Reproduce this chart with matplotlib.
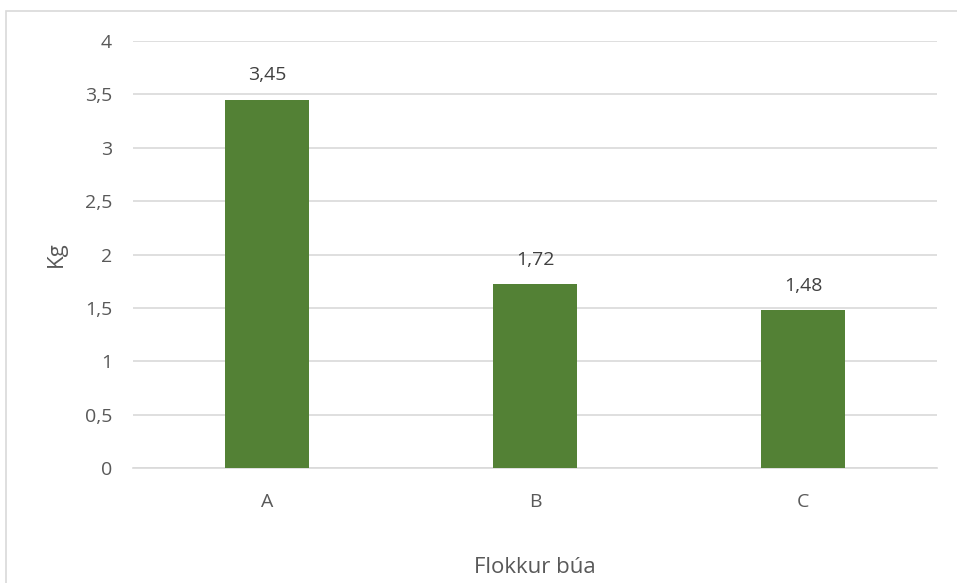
import matplotlib.pyplot as plt
from matplotlib.patches import Rectangle
from matplotlib.ticker import FuncFormatter, MultipleLocator

categories = ["A", "B", "C"]
values = [3.45, 1.72, 1.48]
value_labels = ["3,45", "1,72", "1,48"]

W, H = 957, 583
fig = plt.figure(figsize=(W / 100, H / 100), dpi=100)
plt.rcParams['font.family'] = ['Open Sans', 'DejaVu Sans']

# chart border (runs off the right and bottom edges)
fig.patches.append(Rectangle((6 / W, -0.05), 1.1, 1 - 11 / H + 0.05,
                             transform=fig.transFigure, fill=False,
                             edgecolor='#d9d9d9', linewidth=1.2))

ax = fig.add_axes([133 / W, (H - 468) / H, (937 - 133) / W, (468 - 41) / H])
x = range(len(categories))
bars = ax.bar(x, values, width=0.31, color='#538135', zorder=3)
ax.set_xlim(-0.5, 2.5)
ax.set_ylim(0, 4)
ax.set_xticks(list(x))
ax.set_xticklabels(categories)
ax.yaxis.set_major_locator(MultipleLocator(0.5))
ax.yaxis.set_major_formatter(FuncFormatter(lambda v, p: f"{v:g}".replace('.', ',')))
ax.grid(axis='y', color='#d9d9d9', linewidth=1.2, zorder=0)
for s in ['top', 'right', 'left']:
    ax.spines[s].set_visible(False)
ax.spines['bottom'].set_color('#d9d9d9')
ax.spines['bottom'].set_linewidth(1.2)
ax.tick_params(axis='both', length=0, labelsize=14, colors='#595959')
ax.tick_params(axis='y', pad=15)
ax.tick_params(axis='x', pad=18)

for b, v, lab in zip(bars, values, value_labels):
    ax.annotate(lab, (b.get_x() + b.get_width() / 2, v), xytext=(0, 11),
                textcoords='offset points', ha='center', va='bottom',
                fontsize=14, color='#404040')

ax.set_ylabel("Kg", fontsize=16, color='#595959', labelpad=13)
ax.set_xlabel("Flokkur búa", fontsize=16, color='#595959', labelpad=33)

fig.savefig("out.png", dpi=100)
